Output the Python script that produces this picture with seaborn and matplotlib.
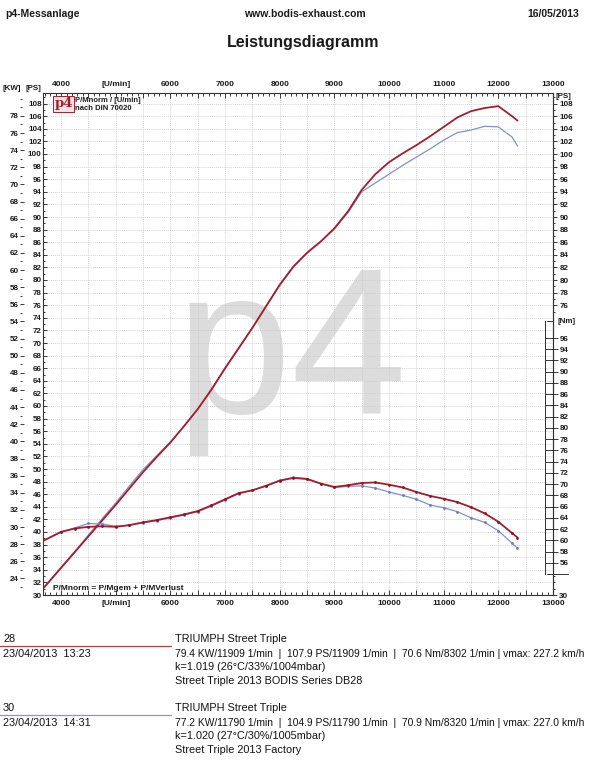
import numpy as np
import pandas as pd
import matplotlib
matplotlib.use("Agg")
import matplotlib.pyplot as plt
import matplotlib.transforms as mtransforms
from matplotlib.lines import Line2D
from matplotlib.ticker import MultipleLocator, FixedLocator, FuncFormatter
import seaborn as sns

# ---------------- data ----------------
rpm = [3650, 4000, 4250, 4500, 4750, 5000, 5250, 5500, 5750, 6000, 6250, 6500,
       6750, 7000, 7250, 7500, 7750, 8000, 8250, 8500, 8750, 9000, 9250, 9500,
       9750, 10000, 10250, 10500, 10750, 11000, 11250, 11500, 11750, 12000,
       12250, 12350]
ps_28 = [30.8, 34.3, 36.8, 39.3, 41.8, 44.3, 46.9, 49.5, 51.9, 54.2, 56.8, 59.5,
         62.6, 66.0, 69.2, 72.4, 75.8, 79.2, 82.1, 84.3, 86.1, 88.2, 90.9, 94.3,
         96.8, 98.7, 100.1, 101.4, 102.8, 104.3, 105.8, 106.8, 107.3, 107.6,
         106.0, 105.3]
ps_30 = [30.8, 34.4, 36.9, 39.5, 42.1, 44.6, 47.3, 49.9, 52.1, 54.3, 56.8, 59.5,
         62.5, 65.9, 69.1, 72.4, 75.9, 79.3, 82.2, 84.4, 86.1, 88.1, 90.7, 94.0,
         95.4, 96.8, 98.2, 99.5, 100.8, 102.2, 103.4, 103.8, 104.4, 104.3,
         102.7, 101.3]
nm_28 = [59.8, 61.5, 62.1, 62.4, 62.5, 62.4, 62.7, 63.2, 63.6, 64.1, 64.6, 65.2,
         66.2, 67.3, 68.4, 68.9, 69.7, 70.6, 71.1, 70.9, 70.1, 69.5, 69.8, 70.2,
         70.3, 69.9, 69.4, 68.6, 67.9, 67.4, 66.8, 65.9, 64.8, 63.3, 61.3, 60.5]
nm_30 = [59.8, 61.5, 62.2, 63.0, 62.9, 62.5, 62.7, 63.1, 63.5, 64.0, 64.5, 65.1,
         66.1, 67.2, 68.3, 68.9, 69.7, 70.7, 71.2, 71.0, 70.1, 69.4, 69.6, 69.7,
         69.3, 68.6, 68.0, 67.3, 66.3, 65.8, 65.1, 64.0, 63.2, 61.7, 59.5, 58.6]

kw_ticks = list(range(24, 80, 2))
ps_ticks_right = [30] + list(range(76, 110, 2))
nm_ticks = list(range(56, 98, 2))

runs = [
    dict(num="28", date="23/04/2013  13:23", name="TRIUMPH Street Triple",
         res="79.4 KW/11909 1/min  |  107.9 PS/11909 1/min  |  70.6 Nm/8302 1/min | vmax: 227.2 km/h",
         k="k=1.019 (26°C/33%/1004mbar)", desc="Street Triple 2013 BODIS Series DB28"),
    dict(num="30", date="23/04/2013  14:31", name="TRIUMPH Street Triple",
         res="77.2 KW/11790 1/min  |  104.9 PS/11790 1/min  |  70.9 Nm/8320 1/min | vmax: 227.0 km/h",
         k="k=1.020 (27°C/30%/1005mbar)", desc="Street Triple 2013 Factory"),
]

RED = "#a51d2d"
BLUE = "#8490c8"
TXT = "#1a1a1a"

# ---------------- figure ----------------
sns.set_theme(style="white")
plt.rcParams["font.family"] = ["Liberation Sans", "DejaVu Sans"]
plt.rcParams["font.weight"] = "bold"

W, H = 603, 768
fig = plt.figure(figsize=(W / 100, H / 100), dpi=100)
fig.patch.set_facecolor("white")
L, R, T, B = 43, 553, 93, 595
px_ps = 6.3
ax = fig.add_axes([L / W, 1 - B / H, (R - L) / W, (B - T) / H])
ax.set_facecolor("white")

def fy(y):
    return 1 - y / H

# watermark
ax.text(0.488, 0.47, "p4", transform=ax.transAxes, fontsize=150, color="#dcdcdc",
        ha="center", va="center", zorder=0.2, fontweight="normal")

# power curves
sns.lineplot(x=rpm, y=ps_30, ax=ax, color=BLUE, lw=0.9, zorder=3)
sns.lineplot(x=rpm, y=ps_28, ax=ax, color=RED, lw=1.3, zorder=4)

# torque axis
ax_nm = ax.twinx()
sns.lineplot(x=rpm, y=nm_30, ax=ax_nm, color=BLUE, lw=0.9, marker="o",
             markersize=2.0, markeredgewidth=0, markerfacecolor="#6a78c0", zorder=3)
sns.lineplot(x=rpm, y=nm_28, ax=ax_nm, color=RED, lw=1.3, marker="o",
             markersize=2.0, markeredgewidth=0, markerfacecolor="#8e1020", zorder=4)

# limits
ax.set_xlim(3670, 13000)
ax.set_ylim(30, 30 + (B - T) / px_ps)
ax.set_xlabel("")
ax.set_ylabel("")
ax_nm.set_ylabel("")

# grid
ax.xaxis.set_major_locator(MultipleLocator(500))
ax.xaxis.set_minor_locator(MultipleLocator(100))
ax.yaxis.set_major_locator(MultipleLocator(2))
ax.yaxis.set_minor_locator(MultipleLocator(1))
ax.grid(True, which="major", color="#c8c8c8", lw=0.6, ls=(0, (1, 1.3)))
ax.set_axisbelow(True)

def xfmt(v, p):
    v = int(round(v))
    if v % 1000:
        return ""
    if v == 5000:
        return "[U/min]"
    return str(v)

ax.xaxis.set_major_formatter(FuncFormatter(xfmt))
ax.tick_params(axis="x", which="both", direction="in", top=True, bottom=True,
               labeltop=True, labelbottom=True, labelsize=6, colors=TXT, width=0.6)
ax.tick_params(axis="x", which="major", length=3.5, pad=3.5)
ax.tick_params(axis="x", which="minor", length=2)
ax.tick_params(axis="y", which="both", direction="in", left=True, right=False,
               labelsize=5.8, colors=TXT, width=0.6, pad=1)
ax.tick_params(axis="y", which="major", length=3)
ax.tick_params(axis="y", which="minor", length=1.5)
for s in ax.spines.values():
    s.set_color("#333333")
    s.set_linewidth(0.8)

# kW axis (outer left)
sec_kw = ax.secondary_yaxis((20 - L) / (R - L),
                            functions=(lambda p: p * 0.7355, lambda k: k / 0.7355))
sec_kw.spines["left"].set_visible(False)
sec_kw.yaxis.set_major_locator(FixedLocator(kw_ticks))
sec_kw.yaxis.set_minor_locator(MultipleLocator(1))
sec_kw.tick_params(axis="y", which="both", direction="in", labelsize=5.8,
                   colors=TXT, width=0.6, pad=1)
sec_kw.tick_params(axis="y", which="major", length=3)
sec_kw.tick_params(axis="y", which="minor", length=1.2)

# right PS axis
sec_ps = ax.secondary_yaxis("right")
sec_ps.spines["right"].set_color("#333333")
sec_ps.spines["right"].set_linewidth(0.8)
sec_ps.yaxis.set_major_locator(FixedLocator(ps_ticks_right))
sec_ps.yaxis.set_minor_locator(FixedLocator(list(range(31, 34)) + list(range(75, 110))))
sec_ps.tick_params(axis="y", which="both", direction="out", labelsize=5.8,
                   colors=TXT, width=0.6, pad=1.5)
sec_ps.tick_params(axis="y", which="major", length=3)
sec_ps.tick_params(axis="y", which="minor", length=1.5)

# Nm axis bracket
for k in ["left", "top", "bottom"]:
    ax_nm.spines[k].set_visible(False)
ax_nm.spines["right"].set_position(("outward", -6))
ax_nm.spines["right"].set_bounds(54, 99)
ax_nm.spines["right"].set_color("#333333")
ax_nm.spines["right"].set_linewidth(0.7)
ax_nm.yaxis.set_major_locator(FixedLocator(nm_ticks))
ax_nm.yaxis.set_minor_locator(FixedLocator([]))
ax_nm.tick_params(axis="y", which="major", direction="out", labelsize=5.8,
                  colors=TXT, width=0.6, pad=1.5, length=9)
ax_nm.grid(False)
trans = mtransforms.blended_transform_factory(ax_nm.transAxes, ax_nm.transData)
x0 = (547 - L) / (R - L)
ax_nm.add_line(Line2D([x0, 1.0], [99, 99], transform=trans, clip_on=False,
                      color="#333333", lw=0.7))
ax_nm.add_line(Line2D([x0, (568 - L) / (R - L)], [54, 54], transform=trans,
                      clip_on=False, color="#333333", lw=0.7))
ax_nm.set_ylim(96 - (B - 338) / 5.62, 96 + (338 - T) / 5.62)
ax_nm.set_xlim(3670, 13000)

# unit labels
fig.text(12 / W, fy(88), "[KW]", fontsize=5.8, ha="center", va="center", color=TXT)
fig.text(33 / W, fy(88), "[PS]", fontsize=5.8, ha="center", va="center", color=TXT)
fig.text(556 / W, fy(96), "[PS]", fontsize=5.8, ha="left", va="center", color=TXT)
fig.text(557 / W, fy(322), "[Nm]", fontsize=5.8, ha="left", va="center", color=TXT)

# legend box top-left
ax.text((63.5 - L) / (R - L), (B - 104) / (B - T), "p4", transform=ax.transAxes,
        fontsize=9.5, color=RED, fontweight="bold", family="DejaVu Serif",
        ha="center", va="center", zorder=6,
        bbox=dict(boxstyle="square,pad=0.12", facecolor="#efe4e6", edgecolor=RED, lw=0.7))
ax.text((75 - L) / (R - L), (B - 100) / (B - T), "P/Mnorm / [U/min]",
        transform=ax.transAxes, fontsize=5.5, ha="left", va="center", color=TXT, zorder=6)
ax.text((75 - L) / (R - L), (B - 108) / (B - T), "nach DIN 70020",
        transform=ax.transAxes, fontsize=5.5, ha="left", va="center", color=TXT, zorder=6)
ax.text((53 - L) / (R - L), (B - 588) / (B - T), "P/Mnorm = P/Mgem + P/MVerlust",
        transform=ax.transAxes, fontsize=6, ha="left", va="center", color=TXT, zorder=6)

# header
fig.text(5 / W, fy(14), "p4-Messanlage", fontsize=7.5, fontweight="bold",
         ha="left", va="center", color=TXT)
fig.text(305 / W, fy(14), "www.bodis-exhaust.com", fontsize=7.5, fontweight="bold",
         ha="center", va="center", color=TXT)
fig.text(579 / W, fy(14), "16/05/2013", fontsize=7.5, fontweight="bold",
         ha="right", va="center", color=TXT)
fig.text(303 / W, fy(42), "Leistungsdiagramm", fontsize=11.5, fontweight="bold",
         ha="center", va="center", color=TXT)

# run descriptions
line_cols = ["#b04040", "#8a98b8"]
for i, (r, lc) in enumerate(zip(runs, line_cols)):
    y0 = 639 + i * 69
    kw = dict(fontsize=7.8, fontweight="normal", ha="left", va="center", color="#111111")
    fig.text(3 / W, fy(y0), r["num"], **kw)
    fig.add_artist(Line2D([0, 171 / W], [fy(y0 + 7), fy(y0 + 7)], color=lc, lw=0.9,
                          transform=fig.transFigure))
    fig.text(3 / W, fy(y0 + 15), r["date"], **kw)
    fig.text(175 / W, fy(y0), r["name"], **kw)
    kw_res = dict(kw, fontsize=7.35)
    fig.text(175 / W, fy(y0 + 15), r["res"], **kw_res)
    fig.text(175 / W, fy(y0 + 28), r["k"], **kw)
    fig.text(175 / W, fy(y0 + 42), r["desc"], **kw)

fig.savefig("out.png", dpi=100)
